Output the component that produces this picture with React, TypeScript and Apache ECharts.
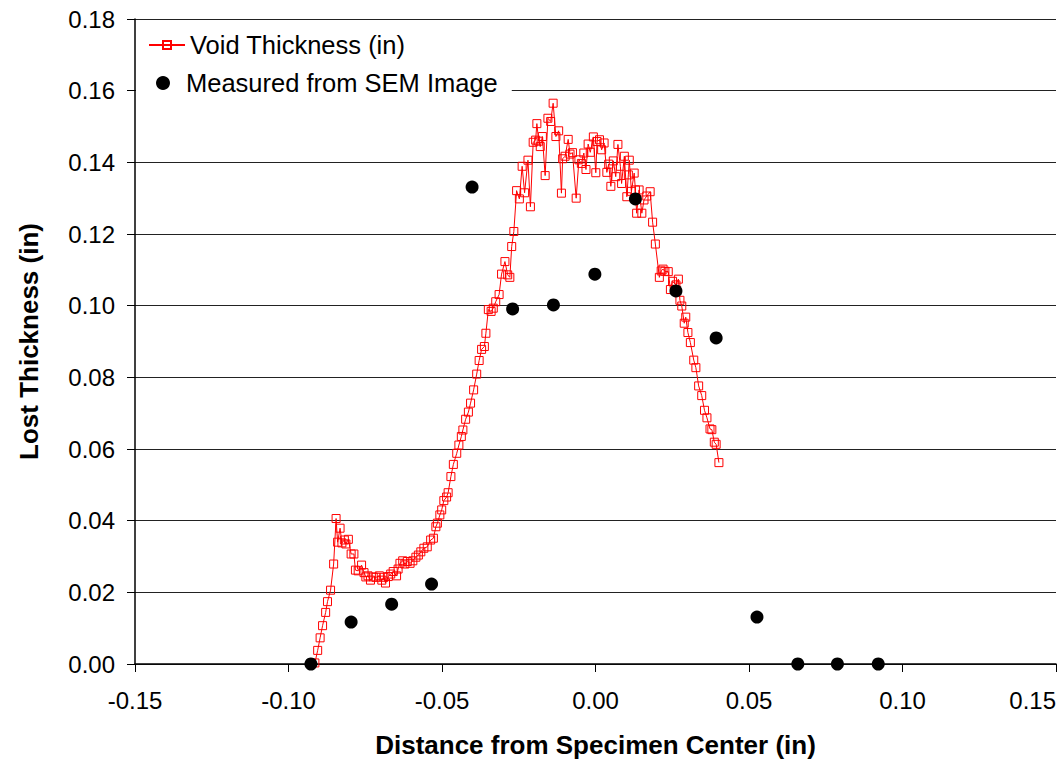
import React, { useEffect, useRef } from "react";
import * as echarts from "echarts";

const voidX = [
  -0.0914, -0.0905, -0.0897, -0.0889, -0.0879, -0.0873, -0.0863, -0.0853, -0.0845, -0.084,
  -0.0832, -0.0826, -0.0818, -0.0813, -0.0805, -0.0796, -0.0787, -0.0782, -0.0773, -0.0762,
  -0.0754, -0.0748, -0.0741, -0.0733, -0.0724, -0.0715, -0.0704, -0.0696, -0.0689, -0.0684,
  -0.0675, -0.0667, -0.0659, -0.0648, -0.0643, -0.0637, -0.0628, -0.0621, -0.0613, -0.0604,
  -0.0595, -0.0585, -0.0577, -0.0569, -0.0559, -0.0548, -0.0537, -0.0528, -0.052, -0.0515,
  -0.0507, -0.0501, -0.0494, -0.0485, -0.048, -0.0471, -0.0463, -0.0452, -0.0445, -0.0437,
  -0.0432, -0.0423, -0.0414, -0.0407, -0.0397, -0.0387, -0.0379, -0.0371, -0.0362, -0.0357,
  -0.0349, -0.034, -0.0333, -0.0325, -0.0314, -0.0306, -0.0295, -0.0286, -0.0279, -0.0273,
  -0.0266, -0.0257, -0.0248, -0.0239, -0.0231, -0.022, -0.0212, -0.0203, -0.0195, -0.0191,
  -0.0185, -0.018, -0.0173, -0.0164, -0.0155, -0.0146, -0.0138, -0.0129, -0.012, -0.0111,
  -0.0107, -0.0099, -0.0089, -0.0083, -0.0075, -0.0063, -0.0054, -0.0046, -0.0038, -0.0031,
  -0.0024, -0.0017, -0.0007, 0.0001, 0.0005, 0.0013, 0.002, 0.0028, 0.0037, 0.0043,
  0.005, 0.0058, 0.0066, 0.0073, 0.0081, 0.0085, 0.0094, 0.0102, 0.0107, 0.011,
  0.0117, 0.0126, 0.013, 0.0134, 0.0142, 0.0151, 0.0158, 0.0167, 0.0178, 0.0186,
  0.0195, 0.0208, 0.0214, 0.022, 0.0226, 0.0237, 0.0244, 0.0251, 0.0262, 0.027,
  0.0275, 0.0281, 0.0289, 0.0294, 0.0301, 0.0309, 0.032, 0.0327, 0.0336, 0.0346,
  0.0355, 0.0363, 0.0373, 0.0379, 0.0387, 0.0393, 0.0402,
];

const voidY = [
  0.0003, 0.0038, 0.0073, 0.0107, 0.0144, 0.0174, 0.0206, 0.0279, 0.0406, 0.034,
  0.0379, 0.0338, 0.0346, 0.0335, 0.0348, 0.0307, 0.0307, 0.0262, 0.026, 0.0276,
  0.0255, 0.0243, 0.0246, 0.0234, 0.0243, 0.0242, 0.0246, 0.0234, 0.0242, 0.0226,
  0.0244, 0.0251, 0.0258, 0.0246, 0.0265, 0.0281, 0.0288, 0.0279, 0.0286, 0.0281,
  0.0288, 0.0298, 0.0304, 0.0313, 0.0323, 0.0327, 0.0346, 0.0351, 0.0383, 0.0393,
  0.0416, 0.043, 0.0456, 0.0466, 0.0478, 0.0523, 0.0557, 0.0588, 0.0611, 0.0635,
  0.0653, 0.0683, 0.0703, 0.0728, 0.0765, 0.0809, 0.0847, 0.0878, 0.0886, 0.0923,
  0.0989, 0.0984, 0.0993, 0.1011, 0.1031, 0.1088, 0.1123, 0.1086, 0.1079, 0.1165,
  0.1207, 0.1321, 0.1298, 0.1389, 0.1315, 0.1406, 0.1276, 0.1456, 0.1462, 0.1508,
  0.1459, 0.1444, 0.1472, 0.1363, 0.1523, 0.1514, 0.1565, 0.1472, 0.1488, 0.1314,
  0.141, 0.1417, 0.1464, 0.1423, 0.1427, 0.13, 0.1407, 0.1397, 0.1426, 0.138,
  0.1451, 0.1428, 0.1471, 0.1371, 0.1458, 0.1463, 0.1435, 0.1454, 0.1372, 0.1395,
  0.1333, 0.1404, 0.136, 0.145, 0.1389, 0.1341, 0.1417, 0.1304, 0.1365, 0.1406,
  0.1319, 0.137, 0.1323, 0.1258, 0.1323, 0.1258, 0.1295, 0.1306, 0.1318, 0.1233,
  0.1172, 0.1079, 0.1097, 0.1102, 0.1096, 0.1095, 0.1045, 0.1068, 0.1058, 0.1074,
  0.1015, 0.0999, 0.0951, 0.0968, 0.0925, 0.0897, 0.0848, 0.0827, 0.0776, 0.0749,
  0.0708, 0.0687, 0.0656, 0.0654, 0.0619, 0.0613, 0.0562,
];

const semX = [
  -0.0927, -0.0796, -0.0664, -0.0534, -0.0402, -0.027, -0.0137, -0.0002, 0.013, 0.0262,
  0.0393, 0.0526, 0.0659, 0.0788, 0.0921,
];
const semY = [
  0, 0.0117, 0.0167, 0.0223, 0.1331, 0.0991, 0.1002, 0.1088, 0.1298, 0.1041,
  0.091, 0.0131, 0, 0, 0,
];

const voidName = "Void Thickness (in)";
const semName = "Measured from SEM Image";
const xTitle = "Distance from Specimen Center (in)";
const yTitle = "Lost Thickness (in)";

const FONT = "'Liberation Sans', Arial, sans-serif";

export default function App() {
  const ref = useRef<HTMLDivElement>(null);

  useEffect(() => {
    if (!ref.current) return;
    const chart = echarts.init(ref.current, undefined, { renderer: "svg" });
    const voidData = voidX.map((x, i) => [x, voidY[i]]);
    const semData = semX.map((x, i) => [x, semY[i]]);
    chart.setOption({
      animation: false,
      backgroundColor: "#ffffff",
      textStyle: { fontFamily: FONT },
      grid: {
        left: 135,
        right: 6,
        top: 19,
        bottom: 108,
        containLabel: false,
        outerBoundsMode: "none",
      },
      legend: [
        {
          data: [voidName],
          orient: "vertical",
          left: 136,
          top: 24,
          padding: [8, 30, 6, 12],
          itemWidth: 36,
          itemHeight: 10,
          backgroundColor: "#ffffff",
          textStyle: { fontSize: 25.5, color: "#000", fontFamily: FONT },
        },
        {
          data: [semName],
          orient: "vertical",
          left: 136,
          top: 62,
          padding: [8, 14, 8, 20],
          itemWidth: 36,
          itemHeight: 14,
          backgroundColor: "#ffffff",
          textStyle: { fontSize: 25.5, color: "#000", fontFamily: FONT },
        },
      ],
      xAxis: {
        type: "value",
        min: -0.15,
        max: 0.15,
        interval: 0.05,
        name: xTitle,
        nameLocation: "middle",
        nameGap: 68,
        nameTextStyle: { fontSize: 26, fontWeight: "bold", color: "#000", fontFamily: FONT },
        axisLine: { show: true, onZero: false, lineStyle: { color: "#000", width: 1.5 } },
        axisTick: { show: true, inside: false, length: 8, lineStyle: { color: "#000" } },
        axisLabel: {
          fontSize: 24,
          color: "#000",
          margin: 24,
          fontFamily: FONT,
          alignMaxLabel: "right",
          formatter: (v: number) => v.toFixed(2),
        },
        splitLine: { show: false },
      },
      yAxis: {
        type: "value",
        min: 0,
        max: 0.18,
        interval: 0.02,
        name: yTitle,
        nameLocation: "middle",
        nameGap: 93,
        nameTextStyle: { fontSize: 26, fontWeight: "bold", color: "#000", fontFamily: FONT },
        axisLine: { show: true, onZero: false, lineStyle: { color: "#000", width: 1.5 } },
        axisTick: { show: true, inside: false, length: 8, lineStyle: { color: "#000" } },
        axisLabel: {
          fontSize: 24,
          color: "#000",
          margin: 20,
          fontFamily: FONT,
          formatter: (v: number) => v.toFixed(2),
        },
        splitLine: { show: true, lineStyle: { color: "#222", width: 1 } },
      },
      series: [
        {
          name: voidName,
          type: "line",
          data: voidData,
          symbol: "rect",
          symbolSize: 8,
          showAllSymbol: true,
          lineStyle: { color: "#ff0000", width: 1 },
          itemStyle: { color: "rgba(255,255,255,0)", borderColor: "#ff0000", borderWidth: 1 },
          z: 2,
        },
        {
          name: semName,
          type: "scatter",
          data: semData,
          symbol: "circle",
          symbolSize: 13,
          itemStyle: { color: "#000000", opacity: 1 },
          z: 3,
        },
      ],
    });
    return () => chart.dispose();
  }, []);

  return (
    <div
      ref={ref}
      style={{ position: "absolute", left: 0, top: 0, width: 1062, height: 772 }}
    />
  );
}
